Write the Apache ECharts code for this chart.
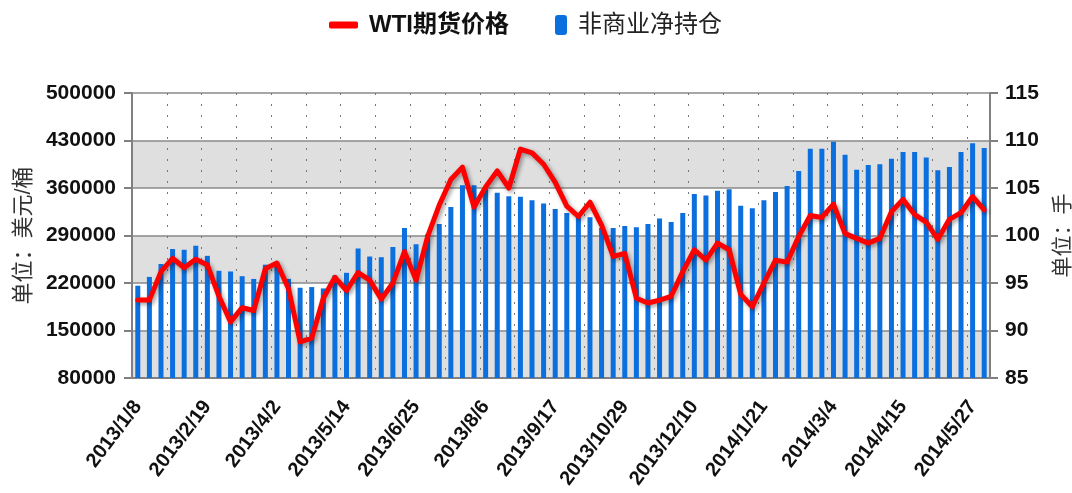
<!DOCTYPE html>
<html>
<head>
<meta charset="utf-8">
<script src="https://cdn.jsdelivr.net/npm/echarts@6/dist/echarts.min.js"></script>
<style>
  html, body { margin: 0; padding: 0; background: #fff; }
  #main { width: 1072px; height: 493px; }
</style>
</head>
<body>
<div id="main"></div>
<script>
var FONT = '"Liberation Sans", Arial, "Noto Sans CJK SC", sans-serif';

// weekly dates, 2013/1/8 .. 2014/6/3
var dates = [
    '2013/1/8', '2013/1/15', '2013/1/22', '2013/1/29', '2013/2/5', '2013/2/12',
    '2013/2/19', '2013/2/26', '2013/3/5', '2013/3/12', '2013/3/19', '2013/3/26',
    '2013/4/2', '2013/4/9', '2013/4/16', '2013/4/23', '2013/4/30', '2013/5/7',
    '2013/5/14', '2013/5/21', '2013/5/28', '2013/6/4', '2013/6/11', '2013/6/18',
    '2013/6/25', '2013/7/2', '2013/7/9', '2013/7/16', '2013/7/23', '2013/7/30',
    '2013/8/6', '2013/8/13', '2013/8/20', '2013/8/27', '2013/9/3', '2013/9/10',
    '2013/9/17', '2013/9/24', '2013/10/1', '2013/10/8', '2013/10/15', '2013/10/22',
    '2013/10/29', '2013/11/5', '2013/11/12', '2013/11/19', '2013/11/26', '2013/12/3',
    '2013/12/10', '2013/12/17', '2013/12/24', '2013/12/31', '2014/1/7', '2014/1/14',
    '2014/1/21', '2014/1/28', '2014/2/4', '2014/2/11', '2014/2/18', '2014/2/25',
    '2014/3/4', '2014/3/11', '2014/3/18', '2014/3/25', '2014/4/1', '2014/4/8',
    '2014/4/15', '2014/4/22', '2014/4/29', '2014/5/6', '2014/5/13', '2014/5/20',
    '2014/5/27', '2014/6/3'
];

// 非商业净持仓 (bars, left axis)
var netPosition = [
    216000, 229000, 248000, 270000, 269000, 275000,
    260000, 238000, 237000, 230000, 226000, 247000,
    248000, 226000, 213000, 214000, 212000, 231000,
    235000, 271000, 259000, 258000, 273000, 301000,
    277000, 292000, 307000, 332000, 364000, 364000,
    359000, 353000, 348000, 347000, 342000, 337000,
    329000, 323000, 318000, 317000, 301000, 301000,
    304000, 302000, 307000, 315000, 310000, 323000,
    351000, 349000, 356000, 358000, 334000, 330000,
    342000, 354000, 363000, 385000, 418000, 418000,
    428000, 409000, 387000, 394000, 395000, 403000,
    413000, 413000, 405000, 386000, 391000, 413000,
    426000, 419000
];

// WTI期货价格 (line, right axis)
var wtiPrice = [
    93.2, 93.2, 96.2, 97.6, 96.6, 97.5,
    96.9, 93.6, 90.9, 92.4, 92.1, 96.5,
    97.1, 94.4, 88.8, 89.2, 93.4, 95.6,
    94.2, 96.1, 95.3, 93.3, 95.0, 98.3,
    95.3, 99.9, 103.2, 105.9, 107.2, 103.0,
    105.1, 106.8, 105.0, 109.1, 108.7, 107.5,
    105.6, 103.1, 102.0, 103.5, 101.1, 97.8,
    98.1, 93.4, 92.9, 93.2, 93.6, 96.2,
    98.5, 97.4, 99.2, 98.5, 93.8, 92.5,
    95.0, 97.4, 97.2, 99.9, 102.1, 101.9,
    103.3, 100.2, 99.7, 99.2, 99.7, 102.5,
    103.8, 102.2, 101.4, 99.6, 101.7, 102.4,
    104.1, 102.7
];

var leftTicks = [80000, 150000, 220000, 290000, 360000, 430000, 500000];

var axisGray = '#808080';

var chart = echarts.init(document.getElementById('main'));

chart.setOption({
    animation: false,
    textStyle: { fontFamily: FONT },
    legend: [{
        data: ['WTI期货价格'],
        left: 324,
        top: 8,
        icon: 'roundRect',
        itemWidth: 29,
        itemHeight: 7,
        textStyle: {
            fontSize: 24, fontWeight: 'bold', color: '#111', fontFamily: FONT,
            padding: [0, 0, 0, 6]
        }
    }, {
        data: ['非商业净持仓'],
        left: 550,
        top: 8,
        itemWidth: 12,
        itemHeight: 20,
        textStyle: {
            fontSize: 24, color: '#222', fontFamily: FONT,
            padding: [0, 0, 0, 6]
        }
    }],
    grid: {
        left: 132,
        right: 82,
        top: 93,
        bottom: 115,
        outerBoundsMode: 'none'
    },
    xAxis: {
        type: 'category',
        data: dates,
        boundaryGap: true,
        axisLine: { lineStyle: { color: axisGray, width: 2 } },
        axisTick: { interval: 2, length: 8, lineStyle: { color: axisGray, width: 2 } },
        axisLabel: {
            interval: 5,
            rotate: 53,
            margin: 25,
            fontSize: 20,
            fontWeight: 'bold',
            color: '#111',
            fontFamily: FONT
        },
        splitLine: {
            show: true,
            interval: 2,
            lineStyle: { color: '#777', width: 1, type: [2, 9] }
        }
    },
    yAxis: [{
        // right: price
        type: 'value',
        position: 'right',
        min: 85,
        max: 115,
        interval: 5,
        name: '单位：手',
        nameLocation: 'middle',
        nameRotate: 90,
        nameGap: 63,
        nameTextStyle: { fontSize: 21, color: '#333', fontFamily: FONT },
        axisLine: { show: true, lineStyle: { color: axisGray, width: 2 } },
        axisTick: { show: true, length: 8, lineStyle: { color: axisGray, width: 2 } },
        axisLabel: { margin: 15, fontSize: 21, fontWeight: 'bold', color: '#111', fontFamily: FONT },
        splitLine: { show: true, lineStyle: { color: '#8a8a8a', width: 1.5 } },
        splitArea: { show: true, areaStyle: { color: ['#dfdfdf', '#ffffff'] } }
    }, {
        // left: net position
        type: 'value',
        position: 'left',
        min: 80000,
        max: 500000,
        name: '单位：美元/桶',
        nameLocation: 'middle',
        nameRotate: 90,
        nameGap: 94,
        nameTextStyle: { fontSize: 22, color: '#333', fontFamily: FONT },
        axisLine: { show: true, lineStyle: { color: axisGray, width: 2 } },
        axisTick: { show: true, length: 8, customValues: leftTicks, lineStyle: { color: axisGray, width: 2 } },
        axisLabel: {
            margin: 16,
            customValues: leftTicks,
            formatter: function(v) { return String(v); },
            fontSize: 21,
            fontWeight: 'bold',
            color: '#111',
            fontFamily: FONT
        },
        splitLine: { show: false },
        splitArea: { show: false }
    }],
    series: [{
        name: '非商业净持仓',
        type: 'bar',
        yAxisIndex: 1,
        barWidth: 5,
        itemStyle: { color: '#0b6fde' },
        data: netPosition
    }, {
        name: 'WTI期货价格',
        type: 'line',
        yAxisIndex: 0,
        symbol: 'none',
        itemStyle: { color: '#ff0000' },
        lineStyle: {
            color: '#ff0000',
            width: 5,
            cap: 'round',
            join: 'round',
            shadowColor: 'rgba(0,0,0,0.4)',
            shadowBlur: 4,
            shadowOffsetX: 2,
            shadowOffsetY: 2
        },
        data: wtiPrice
    }]
});
</script>
</body>
</html>
